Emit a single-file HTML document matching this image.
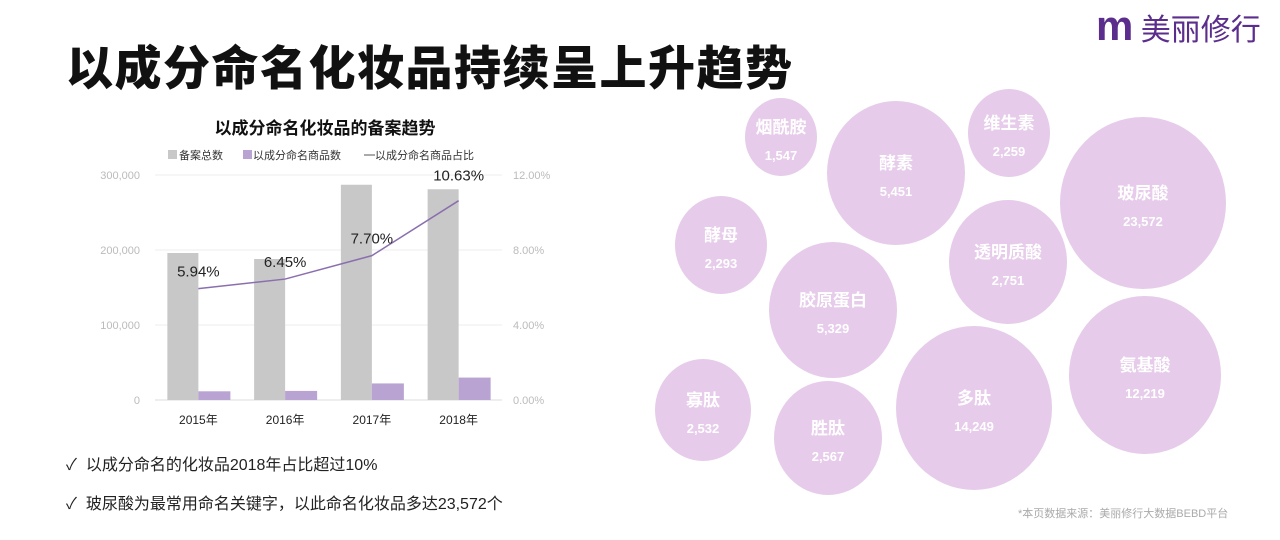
<!DOCTYPE html>
<html><head><meta charset="utf-8"><style>
body{margin:0;width:1280px;height:540px;background:#fff;overflow:hidden;font-family:"Liberation Sans","Noto Sans CJK SC",sans-serif;position:relative}
.t{position:absolute;white-space:nowrap}
</style></head><body>
<div class="t" style="left:66px;top:30px;font-size:47px;font-weight:900;color:#111;letter-spacing:1.5px">以成分命名化妆品持续呈上升趋势</div>
<div class="t" style="left:1096px;top:2px;font-size:30px;color:#5b2d8c"><b style="font-size:42px;font-family:'Liberation Sans',sans-serif;letter-spacing:-1px">m</b> 美丽修行</div>
<svg width="1280" height="540" style="position:absolute;left:0;top:0">
<g id="chart"></g><g id="bubbles"></g>
</svg>
<div class="t" style="left:66px;top:451px;font-size:16px;color:#222">✓&nbsp; 以成分命名的化妆品2018年占比超过10%</div>
<div class="t" style="left:66px;top:490px;font-size:16px;color:#222">✓&nbsp; 玻尿酸为最常用命名关键字，以此命名化妆品多达23,572个</div>
<div class="t" style="left:1018px;top:505px;font-size:11px;color:#aaa">*本页数据来源：美丽修行大数据BEBD平台</div>
<script>
const categories=["2015年","2016年","2017年","2018年"];
const totals=[196000,188000,287000,281000];
const named=[11600,12100,22100,29900];
const ratios=[5.94,6.45,7.70,10.63];
const ratioLabels=["5.94%","6.45%","7.70%","10.63%"];
const leftTicks=[0,100000,200000,300000];
const leftTickLabels=["0","100,000","200,000","300,000"];
const rightTicks=[0,4,8,12];
const rightTickLabels=["0.00%","4.00%","8.00%","12.00%"];
const bubbleNames=["烟酰胺","酵素","维生素","玻尿酸","酵母","透明质酸","胶原蛋白","氨基酸","寡肽","胜肽","多肽"];
const bubbleValues=["1,547","5,451","2,259","23,572","2,293","2,751","5,329","12,219","2,532","2,567","14,249"];
const NS="http://www.w3.org/2000/svg";
function mk(p,tag,a,txt){const e=document.createElementNS(NS,tag);for(const k in a)e.setAttribute(k,a[k]);if(txt!==undefined)e.textContent=txt;p.appendChild(e);return e;}
const g=document.getElementById('chart');
const X0=155,X1=502,Y0=400,Y1=175;
const yL=v=>Y0-(v/300000)*(Y0-Y1);
const yR=v=>Y0-(v/12)*(Y0-Y1);
const band=(X1-X0)/categories.length;
const cx=i=>X0+band*(i+0.5);
let e;
e=mk(g,'text',{x:325,y:134,'text-anchor':'middle','font-size':17,'font-weight':'bold',fill:'#111'},'以成分命名化妆品的备案趋势');

e=mk(g,'rect',{x:168,y:150,width:9,height:9,fill:'#c8c8c8'});
e=mk(g,'text',{x:179,y:159,'font-size':11,fill:'#333'},'备案总数');
e=mk(g,'rect',{x:243,y:150,width:9,height:9,fill:'#b9a3d3'});
e=mk(g,'text',{x:253,y:159,'font-size':11,fill:'#333'},'以成分命名商品数');
e=mk(g,'line',{x1:364,x2:375,y1:155,y2:155,stroke:'#555'});
e=mk(g,'text',{x:375,y:159,'font-size':11,fill:'#333'},'以成分命名商品占比');
leftTicks.forEach((t,i)=>{
 e=mk(g,'line',{x1:X0,x2:X1,y1:yL(t),y2:yL(t),stroke:i?'#eee':'#ddd'});
 e=mk(g,'text',{x:140,y:yL(t)+4,'text-anchor':'end','font-size':11,fill:'#bbb'},leftTickLabels[i]);
});
rightTicks.forEach((t,i)=>{
 e=mk(g,'text',{x:513,y:yR(t)+4,'font-size':11,fill:'#bbb'},rightTickLabels[i]);
});
categories.forEach((c,i)=>{
 e=mk(g,'rect',{x:cx(i)-31,y:yL(totals[i]),width:31,height:Y0-yL(totals[i]),fill:'#c8c8c8'});
 e=mk(g,'rect',{x:cx(i),y:yL(named[i]),width:32,height:Y0-yL(named[i]),fill:'#b9a3d3'});
 e=mk(g,'text',{x:cx(i),y:424,'text-anchor':'middle','font-size':12,fill:'#222'},c);
});
e=mk(g,'polyline',{points:ratios.map((r,i)=>cx(i)+','+yR(r)).join(' '),fill:'none',stroke:'#8a6fae','stroke-width':1.5});

ratios.forEach((r,i)=>{
 e=mk(g,'text',{x:cx(i),y:yR(r)-12-(i==3?8:0),'text-anchor':'middle','font-size':15,fill:'#222'},ratioLabels[i]);
});
const layout=[[781,137,36,39],[896,173,69,72],[1009,133,41,44],[1143,203,83,86],[721,245,46,49],[1008,262,59,62],[833,310,64,68],[1145,375,76,79],[703,410,48,51],[828,438,54,57],[974,408,78,82]];
const bg=document.getElementById('bubbles');
bubbleNames.forEach((n,i)=>{
 const [x,y,rx,ry]=layout[i];
 e=mk(bg,'ellipse',{cx:x,cy:y,rx:rx,ry:ry,fill:'#e6cbea'});
 e=mk(bg,'text',{x:x,y:y-4,'text-anchor':'middle','font-size':17,'font-weight':'bold',fill:'#fff'},n);
 e=mk(bg,'text',{x:x,y:y+23,'text-anchor':'middle','font-size':13,'font-weight':'bold',fill:'#fff'},bubbleValues[i]);
});
</script>
</body></html>
